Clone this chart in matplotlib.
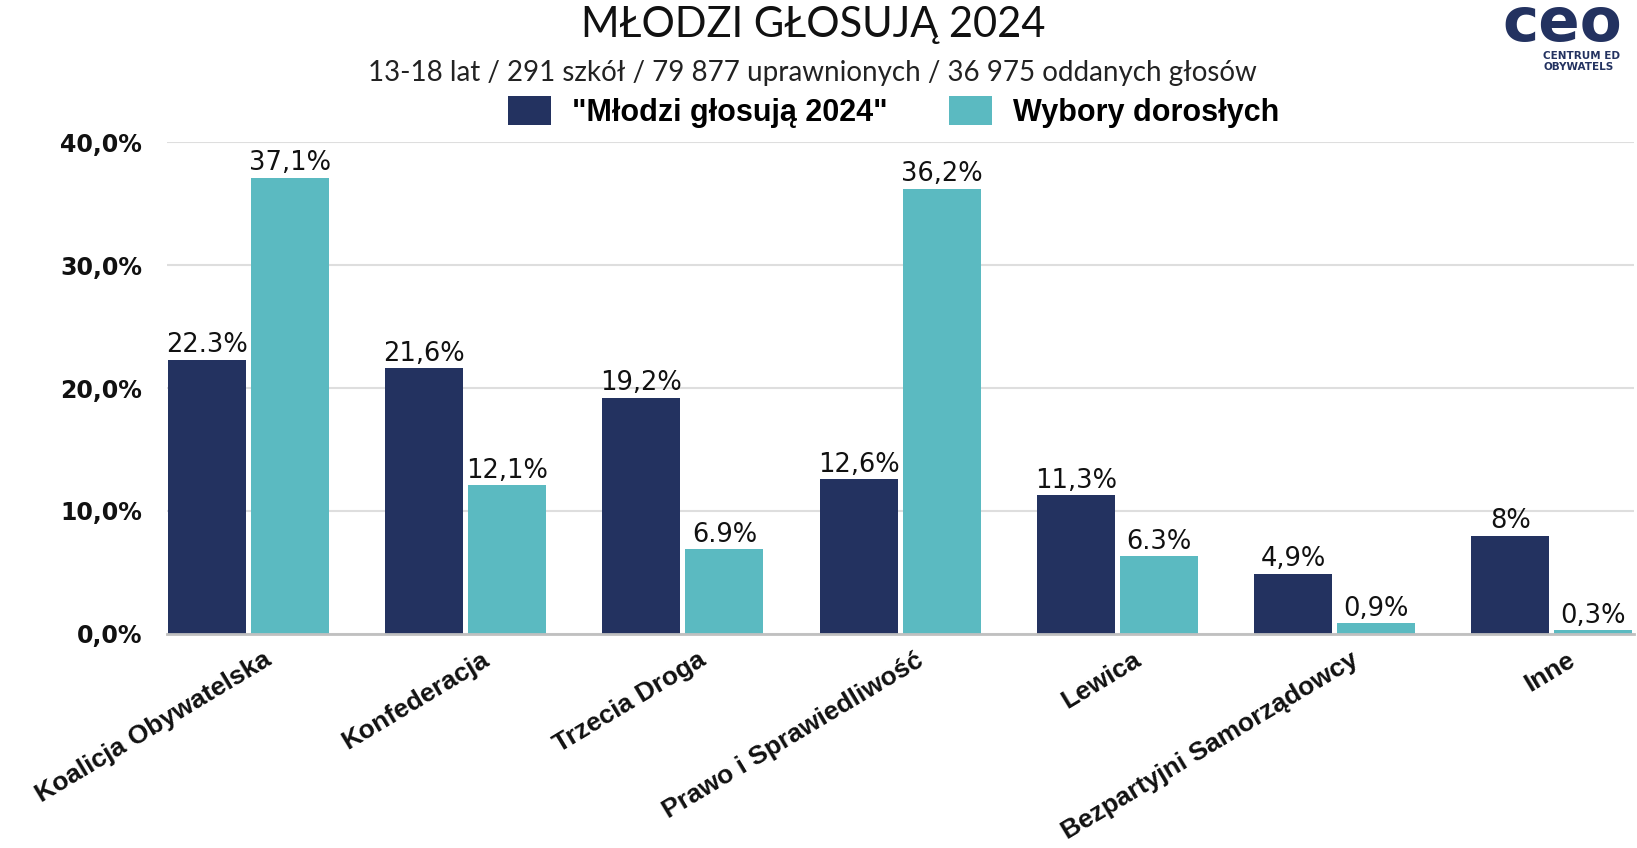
import numpy as np
import matplotlib
matplotlib.use("Agg")
import matplotlib.pyplot as plt
import matplotlib.transforms as mtransforms
from matplotlib.patches import Patch

categories = ["Koalicja Obywatelska", "Konfederacja", "Trzecia Droga",
              "Prawo i Sprawiedliwość", "Lewica", "Bezpartyjni Samorządowcy", "Inne"]
youth = [22.3, 21.6, 19.2, 12.6, 11.3, 4.9, 8.0]
adults = [37.1, 12.1, 6.9, 36.2, 6.3, 0.9, 0.3]
youth_labels = ["22.3%", "21,6%", "19,2%", "12,6%", "11,3%", "4,9%", "8%"]
adult_labels = ["37,1%", "12,1%", "6.9%", "36,2%", "6.3%", "0,9%", "0,3%"]
yticks = [0, 10, 20, 30, 40]
ytick_labels = ["0,0%", "10,0%", "20,0%", "30,0%", "40,0%"]
series_names = ['"Młodzi głosują 2024"', "Wybory dorosłych"]

NAVY = "#233260"
CYAN = "#5bbac1"

fig = plt.figure(figsize=(16.37, 8.48), dpi=100)
ax = fig.add_axes([0.1020, 0.2524, 0.8962, 0.5801])

x = np.arange(len(categories))
w = 0.359
off = 0.191
b1 = ax.bar(x - off, youth, width=w, color=NAVY, zorder=3)
b2 = ax.bar(x + off, adults, width=w, color=CYAN, zorder=3)

for bars, labels in ((b1, youth_labels), (b2, adult_labels)):
    for rect, lab in zip(bars, labels):
        ax.annotate(lab, (rect.get_x() + rect.get_width() / 2, rect.get_height()),
                    xytext=(0, 1), textcoords="offset points", ha="center", va="bottom",
                    fontsize=18.5, family="DejaVu Sans", color="#111111", zorder=4)

ax.set_xlim(-0.375, 6.378)
ax.set_ylim(0, 40)
ax.set_yticks(yticks)
ax.set_yticklabels(ytick_labels, fontsize=17, fontweight="bold", family="DejaVu Sans", color="#111111")
ax.tick_params(axis="y", length=0, pad=18)
ax.grid(axis="y", color="#dedede", linewidth=1.5, zorder=0)
for s in ["top", "right", "left"]:
    ax.spines[s].set_visible(False)
ax.spines["bottom"].set_color("#c0c0c0")
ax.spines["bottom"].set_linewidth(2)
ax.spines["bottom"].set_zorder(5)

ax.set_xticks(x)
ax.set_xticklabels(categories, rotation=31, rotation_mode="anchor", ha="right", va="top",
                   fontsize=19, fontweight="bold", family="Liberation Sans", color="#111111")
ax.tick_params(axis="x", length=0, pad=10)
shift = mtransforms.ScaledTranslation(15 / 100, 0, fig.dpi_scale_trans)
for lbl in ax.get_xticklabels():
    lbl.set_transform(lbl.get_transform() + shift)

fig.text(0.4965, 1 - 37 / 848, "MŁODZI GŁOSUJĄ 2024", ha="center", va="baseline",
         fontsize=30, family="Lato", color="#111111")
fig.text(0.4965, 1 - 81 / 848, "13-18 lat / 291 szkół / 79 877 uprawnionych / 36 975 oddanych głosów",
         ha="center", va="baseline", fontsize=20, family="Lato", color="#222222")

handles = [Patch(facecolor=NAVY), Patch(facecolor=CYAN)]
fig.legend(handles, series_names, loc="center", bbox_to_anchor=(0.546, 1 - 112 / 848), ncol=2,
           frameon=False, prop={"family": "Liberation Sans", "weight": "bold", "size": 22},
           handlelength=1.4, handleheight=1.1, handletextpad=0.7, columnspacing=2.0)

# logo (as visible at the right edge of the reference)
fig.text(1502 / 1637, 1 - 41 / 848, "ceo", ha="left", va="baseline", fontsize=44,
         fontweight="heavy", family="DejaVu Sans", color=NAVY)
fig.text(1543 / 1637, 1 - 59 / 848, "CENTRUM ED", ha="left", va="baseline", fontsize=7.5,
         fontweight="bold", family="DejaVu Sans", color=NAVY)
fig.text(1543 / 1637, 1 - 70 / 848, "OBYWATELS", ha="left", va="baseline", fontsize=7.5,
         fontweight="bold", family="DejaVu Sans", color=NAVY)

fig.savefig("out.png", dpi=100, facecolor="white")
